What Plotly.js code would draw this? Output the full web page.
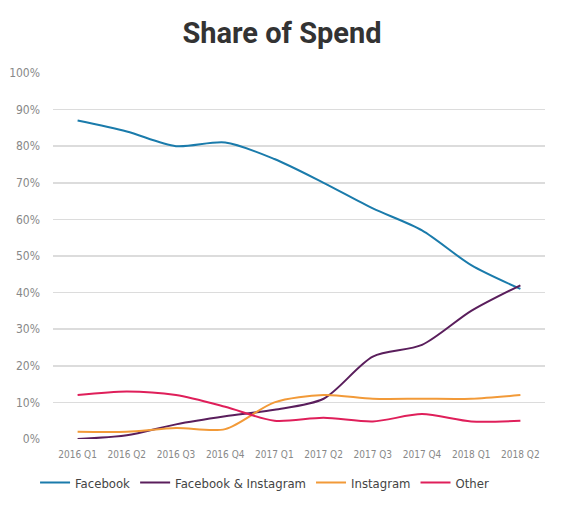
<!DOCTYPE html>
<html><head><meta charset="utf-8">
<script src="https://cdn.plot.ly/plotly-3.0.1.min.js"></script>
<style>html,body{margin:0;padding:0;background:#fff}#chart{width:564px;height:508px}</style>
</head><body><div id="chart"></div>
<script>
const categories = ['2016 Q1','2016 Q2','2016 Q3','2016 Q4','2017 Q1','2017 Q2','2017 Q3','2017 Q4','2018 Q1','2018 Q2'];
const facebook = [87, 84, 80, 81, 76.5, 70, 63, 57, 47.5, 41];
const facebookInstagram = [0, 1, 4, 6.2, 8, 11, 22.5, 25.7, 35, 42];
const instagram = [2, 2, 3, 2.7, 10, 12, 11, 11, 11, 12];
const other = [12, 13, 12, 8.8, 5, 5.8, 4.8, 6.8, 4.8, 5];

const names = ['Facebook','Facebook & Instagram','Instagram','Other'];
const colors = ['#1a7bab','#5a1e5c','#f29a38','#df1f5a'];
const series = [facebook, facebookInstagram, instagram, other];

const traces = series.map((s,i)=>({
  x: categories, y: s, name: names[i], type:'scatter', mode:'lines',
  line:{color:colors[i], width:2, shape:'spline', smoothing:0.8},
  hoverinfo:'skip'
}));

const FONT = 'DejaVu Sans Condensed, Roboto, sans-serif';
const layout = {
  width:564, height:508,
  margin:{l:53, r:19, t:73, b:69, autoexpand:false},
  paper_bgcolor:'#fff', plot_bgcolor:'#fff',
  title:{text:'<b>Share of Spend</b>', x:0.5, xanchor:'center', y:0.935, yanchor:'middle',
    font:{family:'Roboto, sans-serif', size:29, color:'#333'}},
  xaxis:{type:'category', range:[-0.5,9.5], showgrid:false, zeroline:false, showline:false, automargin:false,
    ticks:'', ticklabelstandoff:8, tickfont:{family:FONT, size:10, color:'#888'}, fixedrange:true},
  yaxis:{range:[0,100], dtick:10, ticksuffix:'%', showgrid:true, gridcolor:'#dcdcdc', gridwidth:1.5,
    zeroline:false, showline:false, ticks:'', ticklabelstandoff:12, automargin:false,
    tickfont:{family:FONT, size:12, color:'#888'}, fixedrange:true},
  showlegend:true,
  legend:{orientation:'h', x:0.43, xanchor:'center', y:-0.078, yanchor:'top',
    font:{family:FONT, size:13, color:'#444'}, itemwidth:30, traceorder:'normal'}
};
Plotly.newPlot('chart', traces, layout, {displayModeBar:false, staticPlot:true});
</script></body></html>
